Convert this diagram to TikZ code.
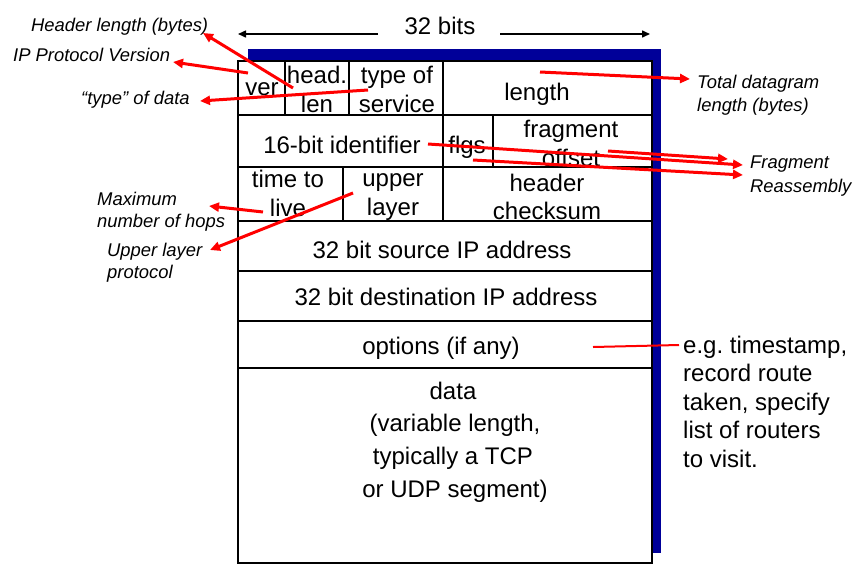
\documentclass[tikz,border=0pt]{standalone}
\usepackage{fontspec}
\setmainfont{Liberation Sans}
\usetikzlibrary{arrows.meta}
\definecolor{navy}{RGB}{0,0,153}
\definecolor{arrred}{RGB}{255,0,0}
\frenchspacing
\begin{document}
\begin{tikzpicture}[x=1pt,y=-1pt,
  lbl/.style={inner sep=0pt, anchor=base, align=center, font=\fontsize{24}{29}\selectfont},
  note/.style={inner sep=0pt, anchor=base west, align=left, font=\fontsize{18.4}{23}\selectfont\itshape},
  redarrow/.style={draw=arrred, line width=3pt, -{Triangle[length=10pt,width=9pt]}},
  redline/.style={draw=arrred, line width=2pt},
  blackarrow/.style={draw=black, line width=1.5pt, -{Triangle[length=8pt,width=7pt]}},
  gridline/.style={line width=2pt},
  ]
\useasboundingbox (0,0) rectangle (854,579);
% shadow and frame
\fill[navy] (248,49) rectangle (661,553);
\draw[gridline, fill=white] (238,61) rectangle (652,563);
\foreach \yy in {115,167,221,271,321,368} \draw[gridline] (238,\yy) -- (652,\yy);
\foreach \xx in {285,349,443} \draw[gridline] (\xx,61) -- (\xx,115);
\foreach \xx in {443,493} \draw[gridline] (\xx,115) -- (\xx,167);
\foreach \xx in {343,443} \draw[gridline] (\xx,167) -- (\xx,221);

% field texts (multi-line nodes: base = baseline of last line)
\node[lbl] (bits) at (440,34) {32 bits};
\node[lbl] (ver) at (262,95) {ver};
\node[lbl] (head) at (317,112) {head.\\len};
\node[lbl] (tos) at (397,112) {type of\\service};
\node[lbl] (length) at (537,100) {length};
\node[lbl] (ident) at (342,153) {16-bit identifier};
\node[lbl] (flgs) at (467,153) {flgs};
\node[lbl] (frag) at (571,166) {fragment\\offset};
\node[lbl] (ttl) at (288,216) {time to\\live};
\node[lbl] (upper) at (393,215) {upper\\layer};
\node[lbl, font=\fontsize{24}{28}\selectfont] (hcs) at (547,219) {header\\checksum};
\node[lbl] (src) at (442,258) {32 bit source IP address};
\node[lbl] (dst) at (446,305) {32 bit destination IP address};
\node[lbl] (opt) at (441,354) {options (if any)};
\node[lbl, font=\fontsize{24}{32.6}\selectfont] (data) at (453,497) {data\\\hspace*{4pt}(variable length,\\typically a TCP\\\hspace*{4pt}or UDP segment)};
\node[lbl, anchor=base west, align=left, font=\fontsize{24}{28.5}\selectfont] (eg) at (683,467) {e.g. timestamp,\\record route\\taken, specify\\list of routers\\to visit.};

% notes
\node[note] (nHL) at (31,31) {Header length (bytes)};
\node[note] (nIP) at (13,61) {IP Protocol Version};
\node[note] (nTOS) at (81,104) {“type” of data};
\node[note] (nTot) at (697,111) {Total datagram\\length (bytes)};
\node[note, font=\fontsize{18.4}{24}\selectfont\itshape] (nFrag) at (750,192) {Fragment\\Reassembly};
\node[note, font=\fontsize{18.4}{22}\selectfont\itshape] (nMax) at (97,227) {Maximum\\number of hops};
\node[note, font=\fontsize{18.4}{22}\selectfont\itshape] (nUL) at (107,278) {Upper layer\\protocol};

% 32 bits arrows
\coordinate (bL0) at (378,34);
\coordinate (bL1) at (238,34);
\coordinate (bR0) at (500,34);
\coordinate (bR1) at (650,34);
\draw[blackarrow] (bL0) -- (bL1);
\draw[blackarrow] (bR0) -- (bR1);

% red arrows
\coordinate (hlT) at (293,88);   \coordinate (hlH) at (203,33);
\coordinate (verT) at (248,73);  \coordinate (verH) at (173,62);
\coordinate (tosT) at (368,90);  \coordinate (tosH) at (200,101);
\coordinate (lenT) at (540,72);  \coordinate (lenH) at (690,79);
\coordinate (offT) at (608,151); \coordinate (offH) at (728,159);
\coordinate (idT) at (428,144);  \coordinate (idH) at (743,165);
\coordinate (flgT) at (473,160); \coordinate (flgH) at (743,175);
\coordinate (ttlT) at (263,212); \coordinate (ttlH) at (209,206);
\coordinate (ulT) at (353,193);  \coordinate (ulH) at (210,250);
\coordinate (optT) at (593,347); \coordinate (optH) at (679,345);
\draw[redarrow] (hlT) -- (hlH);
\draw[redarrow] (verT) -- (verH);
\draw[redarrow] (tosT) -- (tosH);
\draw[redarrow] (lenT) -- (lenH);
\draw[redarrow] (offT) -- (offH);
\draw[redarrow] (idT) -- (idH);
\draw[redarrow] (flgT) -- (flgH);
\draw[redarrow] (ttlT) -- (ttlH);
\draw[redarrow] (ulT) -- (ulH);
\draw[redline] (optT) -- (optH);
\end{tikzpicture}
\end{document}
